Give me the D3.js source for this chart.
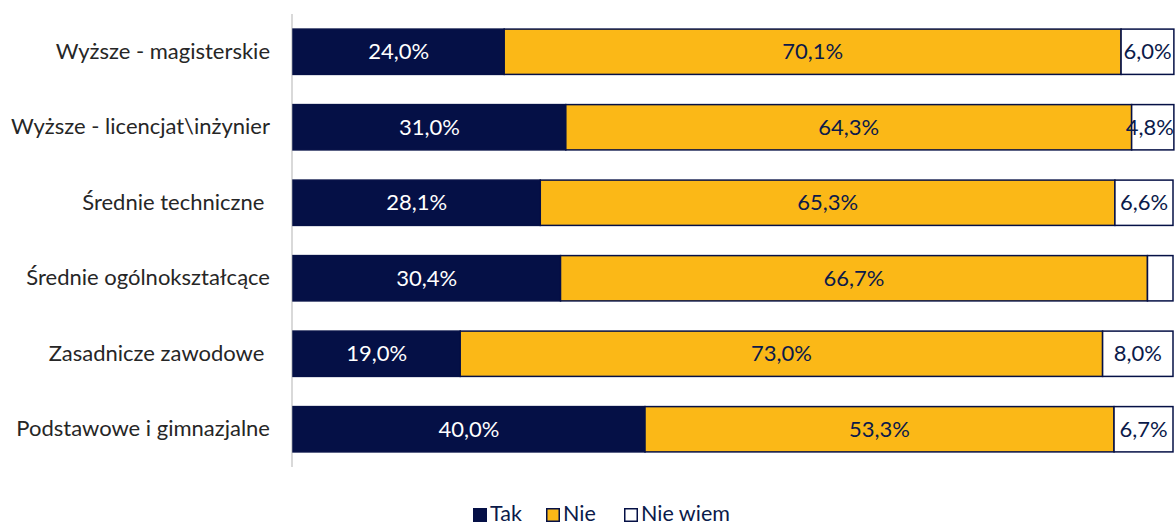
<!DOCTYPE html>
<html><head><meta charset="utf-8">
<script src="https://cdn.jsdelivr.net/npm/d3@7"></script>
<style>body{margin:0;background:#fff}text{font-family:Lato,"Open Sans",sans-serif}</style>
</head><body><svg id="c" width="1175" height="527"></svg>
<script>
const categories = ["Wyższe - magisterskie","Wyższe - licencjat\\inżynier","Średnie techniczne ","Średnie ogólnokształcące","Zasadnicze zawodowe ","Podstawowe i gimnazjalne"];
const series = ["Tak","Nie","Nie wiem"];
const tak = [24.0,31.0,28.1,30.4,19.0,40.0];
const nie = [70.1,64.3,65.3,66.7,73.0,53.3];
const nieWiem = [6.0,4.8,6.6,2.9,8.0,6.7];
const showLabel = [[true,true,true],[true,true,true],[true,true,true],[true,true,false],[true,true,true],[true,true,true]];
const colors = ["#051046","#FBB817","#ffffff"];
const textColors = ["#ffffff","#0b1a4a","#0b1a4a"];

const svg = d3.select("#c");
const x = d3.scaleLinear().domain([0,100]).range([293,1173]);
const y = d3.scaleBand().domain(categories).range([14,467]).paddingInner(0.4).paddingOuter(0.2);
const rows = categories.map((c,i)=>({c,i,vals:[tak[i],nie[i],nieWiem[i]]}));

svg.append("line").attr("x1",292).attr("x2",292).attr("y1",14).attr("y2",467).attr("stroke","#d9d9d9").attr("stroke-width",2);

rows.forEach(r=>{
  let acc=0;
  r.vals.forEach((v,k)=>{
    const x0=x(acc), x1=x(acc+v); acc+=v;
    svg.append("rect").attr("x",x0).attr("y",y(r.c)).attr("width",x1-x0).attr("height",y.bandwidth())
      .attr("fill",colors[k]).attr("stroke","#051046").attr("stroke-width",1.5);
    if(showLabel[r.i][k]){
      const t = svg.append("text").attr("x",(x0+x1)/2).attr("y",y(r.c)+y.bandwidth()/2).attr("dy","0.35em")
        .attr("text-anchor","middle").attr("fill",textColors[k]).attr("font-size",22)
        .text(v.toFixed(1).replace(".",",")+"%");
      const w = t.node().getComputedTextLength();
      const cx = Math.min((x0+x1)/2, 1174 - w/2);
      t.attr("x", cx);
    }
  });
});

const yAxis = svg.append("g").attr("transform","translate(270,0)")
  .call(d3.axisLeft(y).tickSize(0).tickPadding(0));
yAxis.select(".domain").remove();
yAxis.selectAll("text").attr("font-size",22).attr("fill","#262626").style("font-family","Lato,sans-serif").style("white-space","pre");

const legX=[473,546,624];
const leg = svg.append("g");
series.forEach((s,k)=>{
  leg.append("rect").attr("x",legX[k]+0.75).attr("y",508.75).attr("width",12.5).attr("height",12.5)
    .attr("fill",colors[k]).attr("stroke","#051046").attr("stroke-width",1.5);
  leg.append("text").attr("x",legX[k]+17).attr("y",513).attr("dy","0.35em").attr("font-size",21.5).attr("fill","#0b1a4a").text(s);
});
</script></body></html>
